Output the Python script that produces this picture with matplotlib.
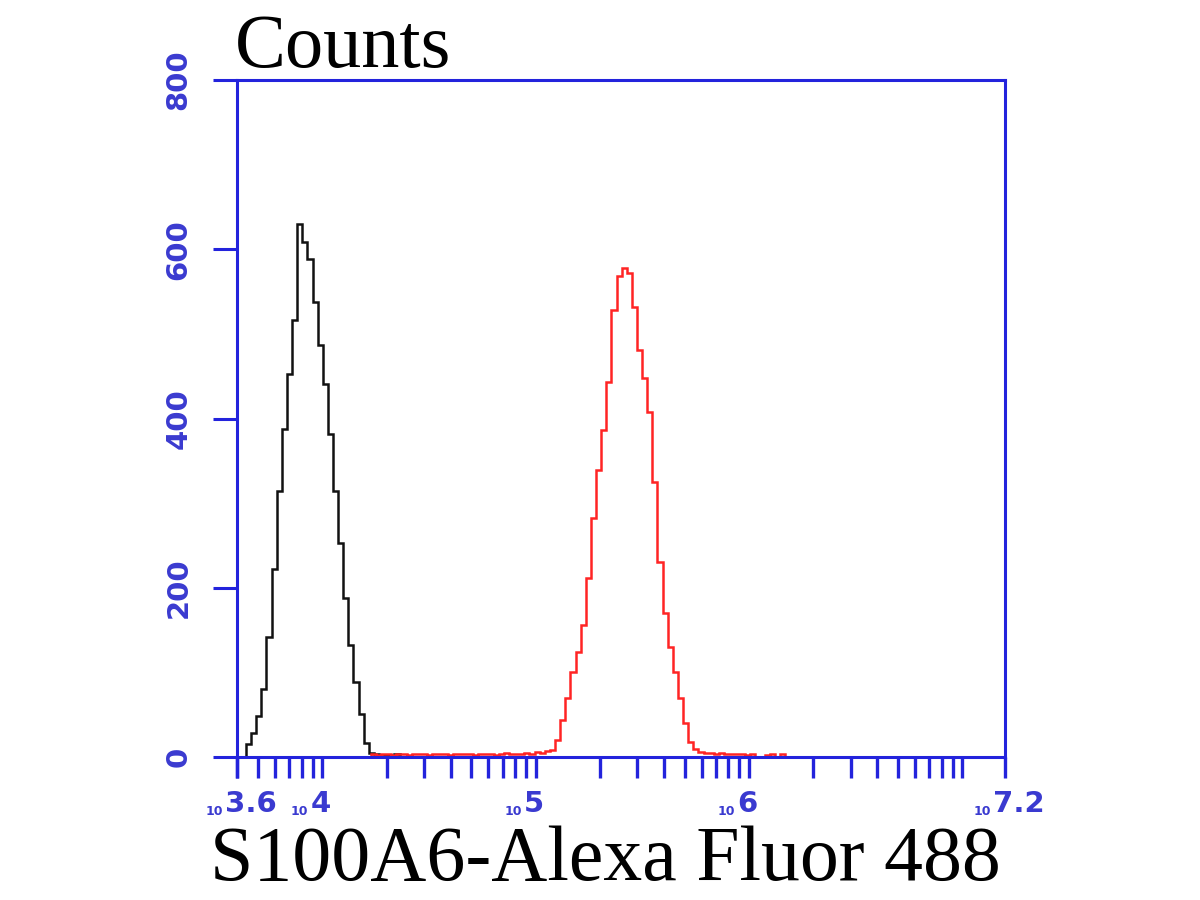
import numpy as np
import matplotlib
matplotlib.use('Agg')
import matplotlib.pyplot as plt
from matplotlib.ticker import FixedLocator, NullFormatter
from matplotlib import transforms

# histogram data: log10 of the first bin edge, bin width in decades, counts per bin
bin_width = 0.024

black_start = 3.642
black_counts = [15, 28, 48, 80, 142, 222, 314, 388, 452, 516, 630, 608, 588, 538,
                487, 441, 382, 314, 253, 188, 132, 89, 51, 17, 5, 3, 0, 2, 0, 3]

red_start = 4.227
red_counts = [3, 2, 3, 3, 2, 4, 3, 2, 3, 4, 3, 2, 3, 3, 4, 2, 3, 4, 3, 3,
              2, 3, 4, 3, 2, 3, 5, 4, 3, 4, 5, 4, 6, 5, 7,
              8, 20, 44, 70, 100, 124, 156, 211, 282, 339, 386, 443, 528, 568,
              578, 572, 532, 481, 448, 408, 325, 230, 170, 130, 100, 70, 40, 18,
              10, 6, 5, 5, 4, 5, 4, 3, 4, 3, 2, 3, 0, 0, 2, 3, 0, 4]

y_ticks = [0, 200, 400, 600, 800]
x_label_exps = ['3.6', '4', '5', '6', '7.2']

blue = '#2323dc'
label_blue = '#3a3ad0'

fig = plt.figure(figsize=(12, 9), dpi=100)
ax = fig.add_axes([237/1200, 1 - 757/900, 768/1200, 677/900])

black_edges = 10 ** (black_start + bin_width * np.arange(len(black_counts) + 1))
red_edges = 10 ** (red_start + bin_width * np.arange(len(red_counts) + 1))
ax.stairs(black_counts, black_edges, color='#111111', linewidth=1.8)
ax.stairs(red_counts, red_edges, color='#ff2424', linewidth=1.8)

ax.set_xscale('log')
ax.set_xlim(10 ** 3.6, 10 ** 7.2)
ax.set_ylim(0, 800)

for s in ax.spines.values():
    s.set_color(blue)
    s.set_linewidth(2.2)

# x ticks: decades plus the two range ends, minor ticks 2..9 inside each decade
major = [10 ** float(e) for e in x_label_exps]
major.insert(-1, 1e7)
minor = [m * 10 ** d for d in range(3, 7) for m in range(2, 10)
         if 10 ** 3.6 < m * 10 ** d < 10 ** 7.2]
ax.xaxis.set_major_locator(FixedLocator(major))
ax.xaxis.set_minor_locator(FixedLocator(minor))
ax.xaxis.set_major_formatter(NullFormatter())
ax.xaxis.set_minor_formatter(NullFormatter())
ax.tick_params(axis='x', which='both', direction='out', length=15, width=2.4,
               color=blue)

ax.set_yticks(y_ticks)
ax.tick_params(axis='y', direction='out', length=17, width=2.2, color=blue,
               labelcolor=label_blue, labelsize=21, pad=15, labelrotation=90)
for lab in ax.get_yticklabels():
    lab.set_fontweight('bold')
    lab.set_va('center')

# tick labels like "10^4": tiny "10" followed by the exponent
base = ax.get_xaxis_transform()
t_exp = transforms.offset_copy(base, fig=fig, x=-12, y=-55, units='dots')
t_ten = transforms.offset_copy(base, fig=fig, x=-14, y=-58, units='dots')
for e in x_label_exps:
    xv = 10 ** float(e)
    ax.text(xv, 0, e, transform=t_exp, ha='left', va='baseline',
            fontsize=21, fontweight='bold', color=label_blue, clip_on=False)
    ax.text(xv, 0, '10', transform=t_ten, ha='right', va='baseline',
            fontsize=9, fontweight='bold', color=label_blue, clip_on=False)

fig.text(235/1200, 1 - 67/900, 'Counts', fontsize=55, family='Liberation Serif',
         ha='left', va='baseline')
fig.text(605/1200, 1 - 880/900, 'S100A6-Alexa Fluor 488', fontsize=56,
         family='Liberation Serif', ha='center', va='baseline')

fig.savefig('out.png', dpi=100)
